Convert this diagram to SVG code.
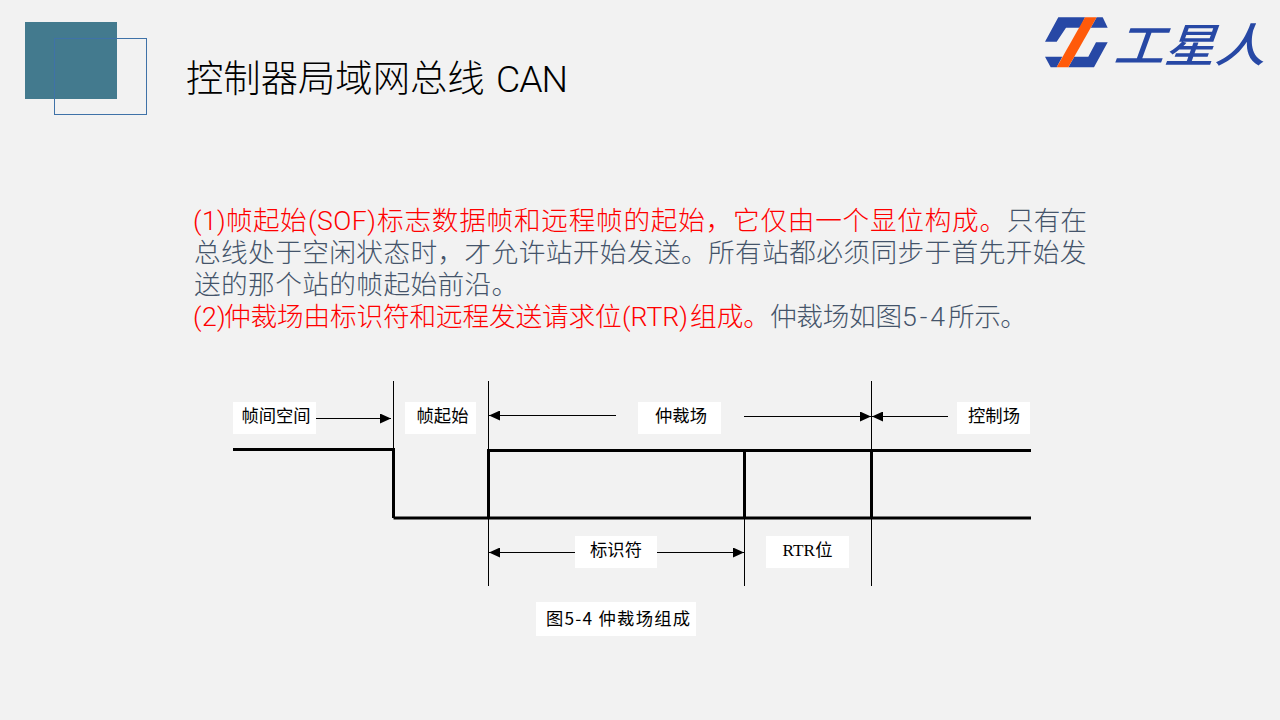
<svg xmlns="http://www.w3.org/2000/svg" width="1280" height="720" viewBox="0 0 1280 720">
<style>
.b{font-family:"Roboto","Liberation Sans","Noto Sans CJK SC",sans-serif;font-size:26.67px;letter-spacing:.4px;font-weight:300}
.r{fill:#ff0000}.g{fill:#44546a}
.l{font-family:"Noto Sans CJK SC",sans-serif;font-size:17.3px;font-weight:400;fill:#000;text-anchor:middle}
.w{fill:#fff}
.t{stroke:#000;stroke-width:1;fill:none}
.h{stroke:#000;stroke-width:3;fill:none}
.p{fill:#2748a5}
</style>
<defs>
<marker id="a" viewBox="0 0 11 10" refX="11" refY="5" markerWidth="11" markerHeight="10" markerUnits="userSpaceOnUse" orient="auto-start-reverse"><path d="M0 0L11 5L0 10Z" fill="#000"/></marker>
</defs>
<rect width="1280" height="720" fill="#f2f2f2"/>
<g id="deco">
<rect x="25" y="22" width="92" height="77" fill="#437a8e"/>
<rect x="54.500" y="38.500" width="92" height="76" fill="none" stroke="#3f72a8" stroke-width="1"/>
</g>
<g id="title"><text y="92" font-family="Roboto,Noto Sans CJK SC,sans-serif" font-size="37.33" font-weight="300" fill="#000"><tspan x="186">控制器局域网总线</tspan><tspan x="496" textLength="72">CAN</tspan></text></g>
<g id="logo">
<path class="p" d="M1058.300 17.300H1085L1080 27.700H1066L1056.700 41.700H1045Z"/>
<path class="p" d="M1096.700 17.300H1102.700L1107.700 27.700H1090.700Z"/>
<path class="p" d="M1096 42.300H1107.700L1094 67.300H1068.300L1074.300 56.700H1088.300Z"/>
<path class="p" d="M1045 56.700H1062.300L1056.700 67.300H1050.700Z"/>
<path d="M1085 17.300H1096.700L1068.300 67.300H1056.700Z" fill="#ff5a0a"/>
<text transform="translate(1113 62) skewX(-20) scale(1.1 1)" x="0" y="0" font-family="Noto Sans CJK SC,sans-serif" font-size="46" font-weight="500" fill="#2748a5">工星人</text>
</g>
<g id="body">
<text class="b" y="230"><tspan class="r" x="193">(1)</tspan><tspan class="r" x="226">帧起始</tspan><tspan class="r" x="308" textLength="68" style="letter-spacing:0">(SOF)</tspan><tspan class="r" x="377" style="letter-spacing:.73px">标志数据帧和远程帧的起始，它仅由一个显位构成。</tspan><tspan class="g" x="1007" style="letter-spacing:0">只有在</tspan></text>
<text class="b g" x="194" y="262">总线处于空闲状态时，才允许站开始发送。所有站都必须同步于首先开始发</text>
<text class="b g" x="194" y="294">送的那个站的帧起始前沿。</text>
<text class="b" y="326"><tspan class="r" x="193">(2)</tspan><tspan class="r" x="224" style="letter-spacing:-.15px">仲裁场由标识符和远程发送请求位</tspan><tspan class="r" x="622" textLength="66" style="letter-spacing:0">(RTR)</tspan><tspan class="r" x="690" style="letter-spacing:0">组成。</tspan><tspan class="g" x="770" style="letter-spacing:-.3px">仲裁场如图</tspan><tspan class="g" x="902" textLength="43" style="letter-spacing:0">5-4</tspan><tspan class="g" x="948" style="letter-spacing:-.5px">所示。</tspan></text>
</g>
<g id="labels">
<g id="n1"><rect class="w" x="233" y="402" width="83" height="32"/><text class="l" x="276" y="422">帧间空间</text></g>
<g id="n2"><rect class="w" x="405" y="402" width="71" height="32"/><text class="l" x="442.500" y="422">帧起始</text></g>
<g id="n3"><rect class="w" x="638" y="402" width="83" height="32"/><text class="l" x="681" y="422">仲裁场</text></g>
<g id="n4"><rect class="w" x="957" y="402" width="73" height="32"/><text class="l" x="994" y="422">控制场</text></g>
<g id="n5"><rect class="w" x="575" y="536" width="82" height="32"/><text class="l" x="616" y="556">标识符</text></g>
<g id="n6"><rect class="w" x="766" y="536" width="83" height="32"/><text class="l" x="807.500" y="556" style="font-family:'Liberation Serif','Noto Sans CJK SC',serif">RTR位</text></g>
<g id="n7"><rect class="w" x="536" y="602" width="160" height="34"/><text class="l" x="618" y="625" textLength="144">图5-4 仲裁场组成</text></g>
</g>
<g id="connectors">
<path class="t" d="M393.500 381V518M488.500 381V586M744.500 450V586M871.500 381V586"/>
<path class="h" d="M233 449.500H393.500V518M393.500 518H1031M488.500 518V450.500H1031M744.500 450.500V518M871.500 450.500V518"/>
<path class="t" d="M316 418.500H391" marker-end="url(#a)"/>
<path class="t" d="M616 415.500H489" marker-end="url(#a)"/>
<path class="t" d="M744 416.500H871" marker-end="url(#a)"/>
<path class="t" d="M948 416.500H872" marker-end="url(#a)"/>
<path class="t" d="M575 552.500H489" marker-end="url(#a)"/>
<path class="t" d="M657 552.500H744" marker-end="url(#a)"/>
</g>
</svg>
